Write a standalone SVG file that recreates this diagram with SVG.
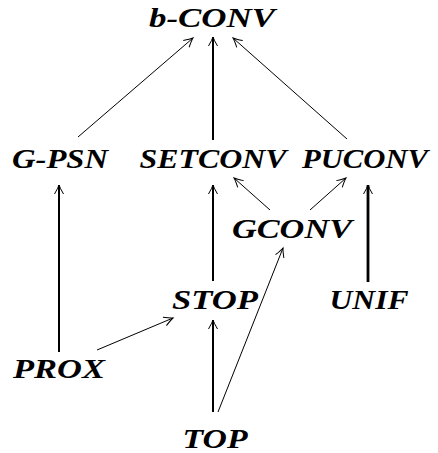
<svg xmlns="http://www.w3.org/2000/svg" width="438" height="453" viewBox="0 0 438 453">
<style>
text{font-family:"Liberation Serif","Times New Roman",serif;font-weight:bold;font-style:italic;font-size:28px;fill:#000;text-anchor:middle}
.e{fill:none;stroke:#000;stroke-width:1}
.v{fill:none;stroke:#000;stroke-width:2}
.t{fill:none;stroke:#000;stroke-width:2.8}
</style>
<defs>
<marker id="a" markerUnits="userSpaceOnUse" markerWidth="20" markerHeight="20" refX="0" refY="0" viewBox="-12 -10 14 20" orient="auto" overflow="visible">
<path d="M-9,-4.5 Q-3,-1 0,0 Q-3,1 -9,4.5" fill="none" stroke="#000" stroke-width="1"/>
</marker>
</defs>
<rect width="438" height="453" fill="#fff"/>
<g id="connectors">
<line class="e" x1="78" y1="137" x2="193" y2="38" marker-end="url(#a)"/>
<line class="v" x1="213" y1="140" x2="213" y2="37" marker-end="url(#a)"/>
<line class="e" x1="347" y1="139" x2="233" y2="38" marker-end="url(#a)"/>
<line class="v" x1="59" y1="352" x2="59" y2="185" marker-end="url(#a)"/>
<line class="v" x1="213" y1="281" x2="213" y2="185" marker-end="url(#a)"/>
<line class="t" x1="368" y1="282" x2="368" y2="185" marker-end="url(#a)"/>
<line class="e" x1="270" y1="210" x2="234" y2="178" marker-end="url(#a)"/>
<line class="e" x1="310" y1="210" x2="346" y2="178" marker-end="url(#a)"/>
<line class="e" x1="97" y1="350" x2="173" y2="318" marker-end="url(#a)"/>
<line class="v" x1="213" y1="412" x2="213" y2="320" marker-end="url(#a)"/>
<line class="e" x1="218" y1="412" x2="283" y2="248" marker-end="url(#a)"/>
</g>
<g id="b-conv"><text x="212" y="27" textLength="126" lengthAdjust="spacingAndGlyphs">b-CONV</text></g>
<g id="g-psn"><text x="60" y="168" textLength="96" lengthAdjust="spacingAndGlyphs">G-PSN</text></g>
<g id="setconv"><text x="213" y="168" textLength="147" lengthAdjust="spacingAndGlyphs">SETCONV</text></g>
<g id="puconv"><text x="365" y="168" textLength="126" lengthAdjust="spacingAndGlyphs">PUCONV</text></g>
<g id="gconv"><text x="292" y="238" textLength="120" lengthAdjust="spacingAndGlyphs">GCONV</text></g>
<g id="stop"><text x="215" y="309" textLength="86" lengthAdjust="spacingAndGlyphs">STOP</text></g>
<g id="unif"><text x="369" y="309" textLength="79" lengthAdjust="spacingAndGlyphs">UNIF</text></g>
<g id="prox"><text x="59" y="378" textLength="92" lengthAdjust="spacingAndGlyphs">PROX</text></g>
<g id="top"><text x="215" y="448" textLength="65" lengthAdjust="spacingAndGlyphs">TOP</text></g>
</svg>
